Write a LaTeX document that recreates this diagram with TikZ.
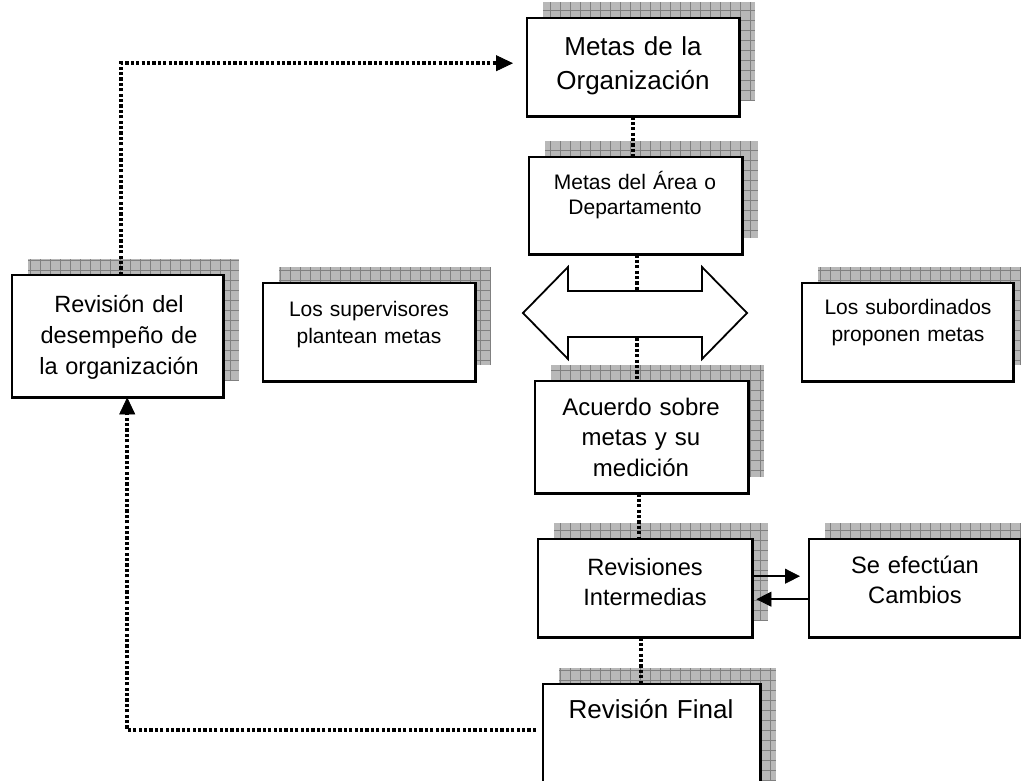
\documentclass[tikz,border=0pt]{standalone}
\usepackage{fontspec}
\setmainfont{Liberation Sans}
\usetikzlibrary{arrows.meta}
\newcommand\mkshadow[4]{%
  \fill[shfill] (#1+16,#2-16) rectangle (#3+16,#4-16);
  \draw[shgrid] (#1+16,#2-16) grid (#3+16,#4-16);
}
\begin{document}
\begin{tikzpicture}[x=1pt,y=-1pt,
  shfill/.style={fill=black!28},
  shgrid/.style={draw=black!50, line width=0.8pt, step=10pt},
  boxst/.style={draw=none, fill=none, rectangle, inner sep=0pt, anchor=north west},
  frame/.style={draw=black, fill=white, line width=2.2pt},
  txt/.style={align=center, inner sep=0pt, anchor=base, text width=210pt},
  dotline/.style={line width=3.6pt, dash pattern=on 3.2pt off 2.2pt},
  tipst/.style={-{Triangle[length=17pt,width=16pt,line width=0.8pt]}},
  solidarrow/.style={line width=2.2pt, -{Triangle[length=15pt,width=15pt,line width=0.8pt]}}
]
\clip (0,0) rectangle (1021,780);
\useasboundingbox (0,0) rectangle (1021,780);

% shadows
\mkshadow{527}{18}{739}{116}
\mkshadow{529}{157}{742}{254}
\mkshadow{12}{275}{223}{397}
\mkshadow{263}{283}{475}{381}
\mkshadow{802}{283}{1013}{381}
\mkshadow{535}{381}{748}{493}
\mkshadow{538}{539}{752}{637}
\mkshadow{809}{539}{1021}{637}
\mkshadow{543}{684}{760}{800}

% box nodes
\node[boxst, minimum width=212pt, minimum height=98pt] (mo) at (527,18) {};
\node[boxst, minimum width=213pt, minimum height=97pt] (ma) at (529,157) {};
\node[boxst, minimum width=211pt, minimum height=122pt] (rd) at (12,275) {};
\node[boxst, minimum width=212pt, minimum height=98pt] (sp) at (263,283) {};
\node[boxst, minimum width=211pt, minimum height=98pt] (sb) at (802,283) {};
\node[boxst, minimum width=213pt, minimum height=112pt] (ac) at (535,381) {};
\node[boxst, minimum width=214pt, minimum height=98pt] (ri) at (538,539) {};
\node[boxst, minimum width=211pt, minimum height=98pt] (se) at (809,539) {};
\node[boxst, minimum width=217pt, minimum height=116pt] (rf) at (543,684) {};

% dotted connectors
\draw[dotline] (mo.south) -- (mo.south |- ma.north);
\draw[dotline] ([xshift=-3pt]ac.south) -- ([xshift=-3pt]ac.south |- ri.north);
\draw[dotline] ([xshift=-4pt]ri.south) -- ([xshift=-4pt]ri.south |- rf.north);
\draw[dotline, tipst] ([xshift=3.5pt]rd.north) |- ([xshift=-14pt,yshift=4pt]mo.west);
\draw[dotline, tipst] ([xshift=-7pt,yshift=12pt]rf.west) -| ([xshift=9.5pt]rd.south);

% visible boxes
\foreach \n in {mo,ma,rd,sp,sb,ac,ri,se,rf}{
  \draw[frame] (\n.north west) rectangle (\n.south east);
}

% double arrow
\draw[line width=1.8pt, fill=white, line join=miter]
  (523,313) -- (568,267) -- (568,291) -- (702,291) -- (702,267) -- (747,313)
  -- (702,359) -- (702,337) -- (568,337) -- (568,359) -- cycle;
\draw[dotline] ([xshift=1.5pt]ma.south) -- ([xshift=1.5pt]ma.south |- 0,290);
\draw[dotline] ([xshift=1.5pt]ma.south |- 0,338) -- ([xshift=1.5pt]ma.south |- ac.north);

% texts
\node[txt, font=\fontsize{26}{34}\selectfont] (tmo) at (633,55) {Metas de la\\Organización};
\node[txt, font=\fontsize{21}{25}\selectfont] (tma) at (635,189) {Metas del Área o\\Departamento};
\node[txt, font=\fontsize{23.5}{31}\selectfont] (trd) at (119,312) {Revisión del\\desempeño de\\la organización};
\node[txt, font=\fontsize{21}{27}\selectfont] (tsp) at (369,316) {Los supervisores\\plantean metas};
\node[txt, font=\fontsize{21}{27}\selectfont] (tsb) at (908,314) {Los subordinados\\proponen metas};
\node[txt, font=\fontsize{24}{30.5}\selectfont] (tac) at (641,415) {Acuerdo sobre\\metas y su\\medición};
\node[txt, font=\fontsize{23.6}{30}\selectfont] (tri) at (645,575) {Revisiones\\Intermedias};
\node[txt, font=\fontsize{23.7}{30}\selectfont] (tse) at (915,573) {Se efectúan\\Cambios};
\node[txt, font=\fontsize{26}{34}\selectfont] (trf) at (651,718) {Revisión Final};

% solid arrows
\draw[solidarrow] ([yshift=12pt]ri.east) -- ([yshift=12pt,xshift=-9pt]se.west);
\draw[solidarrow] ([yshift=-11pt]se.west) -- ([yshift=-11pt,xshift=4pt]ri.east);
\end{tikzpicture}
\end{document}
